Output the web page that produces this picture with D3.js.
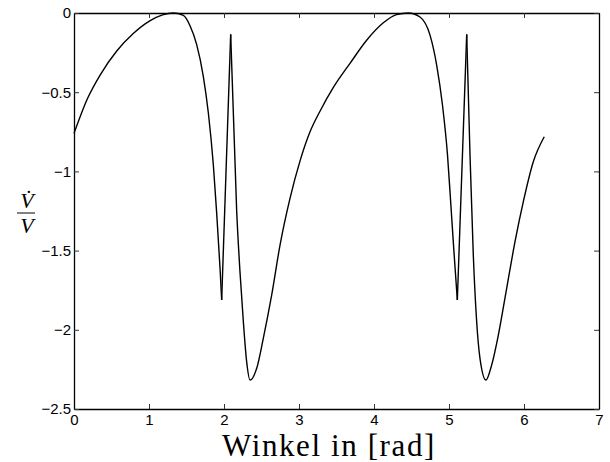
<!DOCTYPE html>
<html>
<head>
<meta charset="utf-8">
<script src="https://cdn.jsdelivr.net/npm/d3@7"></script>
<style>
  body { margin: 0; background: #fff; }
  svg { display: block; }
  .tick text { font-family: "Liberation Sans", Arial, sans-serif; font-size: 15px; fill: #000; }
</style>
</head>
<body>
<svg id="chart" width="610" height="462"></svg>
<script>
// Angle in rad and the ratio V-dot / V at that angle
const winkel = [
  0.000, 0.180, 0.350, 0.570, 0.790, 1.010, 1.180, 1.324, 1.458, 1.547,
  1.636, 1.724, 1.791, 1.858, 1.902, 1.947, 1.969, 2.089, 2.169, 2.213,
  2.258, 2.302, 2.347, 2.436, 2.524, 2.636, 2.747, 2.880, 3.013, 3.147,
  3.280, 3.458, 3.680, 3.902, 4.124, 4.300, 4.458, 4.613, 4.747, 4.836,
  4.913, 4.980, 5.025, 5.063, 5.111, 5.236, 5.280, 5.324, 5.369, 5.413,
  5.493, 5.569, 5.658, 5.769, 5.880, 5.991, 6.124, 6.270
];
const verhaeltnis = [
  -0.760, -0.540, -0.390, -0.240, -0.130, -0.050, -0.012, 0.000, -0.015, -0.080,
  -0.200, -0.400, -0.630, -0.960, -1.260, -1.610, -1.812, -0.135, -1.250, -1.633,
  -1.949, -2.201, -2.317, -2.243, -2.054, -1.780, -1.465, -1.170, -0.935, -0.750,
  -0.620, -0.470, -0.318, -0.172, -0.062, -0.010, 0.000, -0.025, -0.140, -0.330,
  -0.581, -0.896, -1.212, -1.486, -1.812, -0.135, -0.896, -1.528, -1.949, -2.180,
  -2.317, -2.222, -2.033, -1.738, -1.444, -1.191, -0.939, -0.781
];
const xTicks = [0, 1, 2, 3, 4, 5, 6, 7];
const yTicks = [0, -0.5, -1, -1.5, -2, -2.5];
const xTitle = "Winkel in [rad]";

const svg = d3.select("#chart");
const x = d3.scaleLinear().domain([0, 7]).range([74, 599]);
const y = d3.scaleLinear().domain([-2.5, 0]).range([409, 13]);

const fmt = d => d3.format("")(d).replace("-", "\u2212");

// Axes: ticks point inwards on all four sides, labels only bottom and left
const axes = [
  { ax: d3.axisBottom(x).tickValues(xTicks).tickFormat(fmt).tickPadding(5), t: `translate(0,${y(-2.5)})` },
  { ax: d3.axisTop(x).tickValues(xTicks).tickFormat(""), t: `translate(0,${y(0)})` },
  { ax: d3.axisLeft(y).tickValues(yTicks).tickFormat(fmt).tickPadding(3), t: `translate(${x(0)},0)` },
  { ax: d3.axisRight(y).tickValues(yTicks).tickFormat(""), t: `translate(${x(7)},0)` }
];
axes.forEach(a => {
  const g = svg.append("g").attr("transform", a.t)
    .call(a.ax.tickSizeInner(-5).tickSizeOuter(0));
  g.select(".domain").attr("stroke", "#000").attr("stroke-width", 1.3);
  g.selectAll(".tick line").attr("stroke", "#333").attr("stroke-width", 1);
});

// Curve: split at the sharp reversals of the narrow spikes so they stay pointed
const pts = winkel.map((w, i) => [w, verhaeltnis[i]]);
const segments = [];
let cur = [pts[0]];
for (let i = 1; i < pts.length; i++) {
  cur.push(pts[i]);
  if (i < pts.length - 1) {
    const s1 = (pts[i][1] - pts[i - 1][1]) / (pts[i][0] - pts[i - 1][0]);
    const s2 = (pts[i + 1][1] - pts[i][1]) / (pts[i + 1][0] - pts[i][0]);
    if (Math.sign(s1) !== Math.sign(s2) && Math.abs(s1) > 4 && Math.abs(s2) > 4) {
      segments.push(cur);
      cur = [pts[i]];
    }
  }
}
segments.push(cur);

const line = d3.line().x(d => x(d[0])).y(d => y(d[1])).curve(d3.curveMonotoneX);
svg.append("g").selectAll("path").data(segments).join("path")
  .attr("d", line)
  .attr("fill", "none")
  .attr("stroke", "#000")
  .attr("stroke-width", 1.4)
  .attr("stroke-linejoin", "miter");

// x-axis title
svg.append("text")
  .attr("x", 329).attr("y", 455.5)
  .attr("text-anchor", "middle")
  .attr("font-family", "'Liberation Serif', 'Times New Roman', serif")
  .attr("font-size", 31)
  .attr("letter-spacing", 1.6)
  .text(xTitle);

// y-axis title: V-dot over V
const yl = svg.append("g").attr("transform", "translate(26,0)")
  .attr("font-family", "'Liberation Serif', 'Times New Roman', serif")
  .attr("font-style", "italic").attr("font-size", 22).attr("text-anchor", "middle");
yl.append("text").attr("x", 1).attr("y", 208).text("V\u0307");
yl.append("line").attr("x1", -9).attr("x2", 9).attr("y1", 213).attr("y2", 213)
  .attr("stroke", "#000").attr("stroke-width", 1);
yl.append("text").attr("x", 1).attr("y", 233).text("V");
</script>
</body>
</html>
